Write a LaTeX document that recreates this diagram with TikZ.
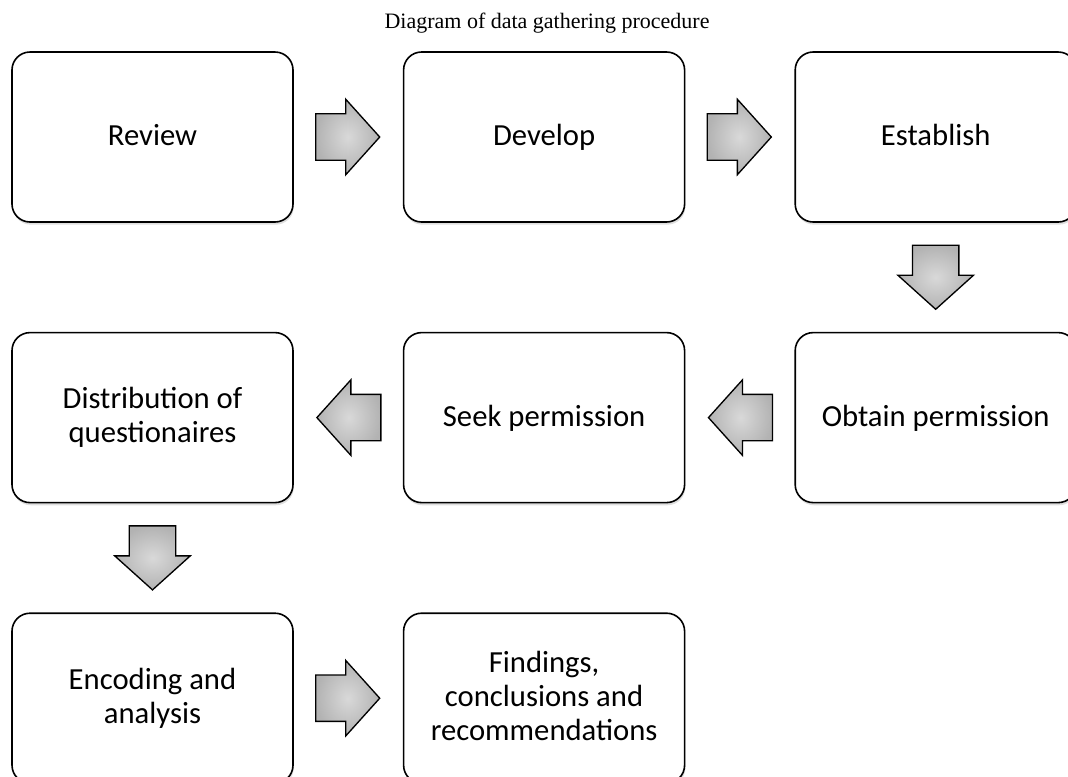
\documentclass[tikz,border=0pt]{standalone}
\usepackage{fontspec}
\setmainfont{Liberation Serif}
\newfontfamily\boxfont{Carlito}
\usetikzlibrary{positioning, calc, shapes.arrows, shadows}
\newcommand{\boxstrut}{\rule[-4pt]{0pt}{21pt}}

\begin{document}
\begin{tikzpicture}[x=0.75pt, y=-0.75pt,
				schritt/.style={draw, line width=1.2pt, rounded corners=13.5pt, fill=white,
					minimum width=210.75pt, minimum height=127.5pt, align=center,
					drop shadow={shadow xshift=0.6pt, shadow yshift=-2pt, opacity=0.25},
					execute at begin node=\boxstrut, execute at end node=\boxstrut,
					font=\boxfont\fontsize{23}{25.5}\selectfont},
				pfeil/.style={single arrow, draw, line width=1pt, anchor=tail,
					shading=radial, inner color=gray!30, outer color=gray!60,
					minimum height=48pt,
					single arrow head extend=10.9pt, single arrow tip angle=96},
				quer/.style={pfeil, inner xsep=0pt, inner ysep=16.9pt, shape border rotate=#1},
				quer/.default=0,
				hoch/.style={pfeil, inner xsep=16.9pt, inner ysep=0pt, shape border rotate=270},
				node distance=81.75pt]
				%Bildbereich festlegen
				\useasboundingbox (0,0) rectangle (1068,776);
				% Titel
				\node (titel) at (547,23) {\fontsize{16.5}{19}\selectfont Diagram of data gathering procedure};
				% Erste Reihe
				\node[schritt] (review) at (152.5,137) {Review};
				\node[schritt, right=of review] (develop) {Develop};
				\node[schritt, right=of develop] (establish) {Establish};
				% Zweite Reihe
				\node[schritt, below=of establish] (obtain) {Obtain permission};
				\node[schritt, left=of obtain] (seek) {Seek permission};
				\node[schritt, left=of seek] (distrib) {Distribution of\\questionaires};
				% Dritte Reihe
				\node[schritt, below=of distrib] (encoding) {Encoding and\\analysis};
				\node[schritt, right=of encoding] (findings) {Findings,\\conclusions and\\recommendations};
				%Pfeile zeichnen:
				\node[quer] (p1) at ($(review.east)!0.195!(develop.west)$) {};
				\node[quer] (p2) at ($(develop.east)!0.195!(establish.west)$) {};
				\node[hoch] (p3) at ($(establish.south)!0.2!(obtain.north)$) {};
				\node[quer=180] (p4) at ($(obtain.west)!0.195!(seek.east)$) {};
				\node[quer=180] (p5) at ($(seek.west)!0.195!(distrib.east)$) {};
				\node[hoch] (p6) at ($(distrib.south)!0.2!(encoding.north)$) {};
				\node[quer] (p7) at ($(encoding.east)!0.195!(findings.west)$) {};
			\end{tikzpicture}
\end{document}
